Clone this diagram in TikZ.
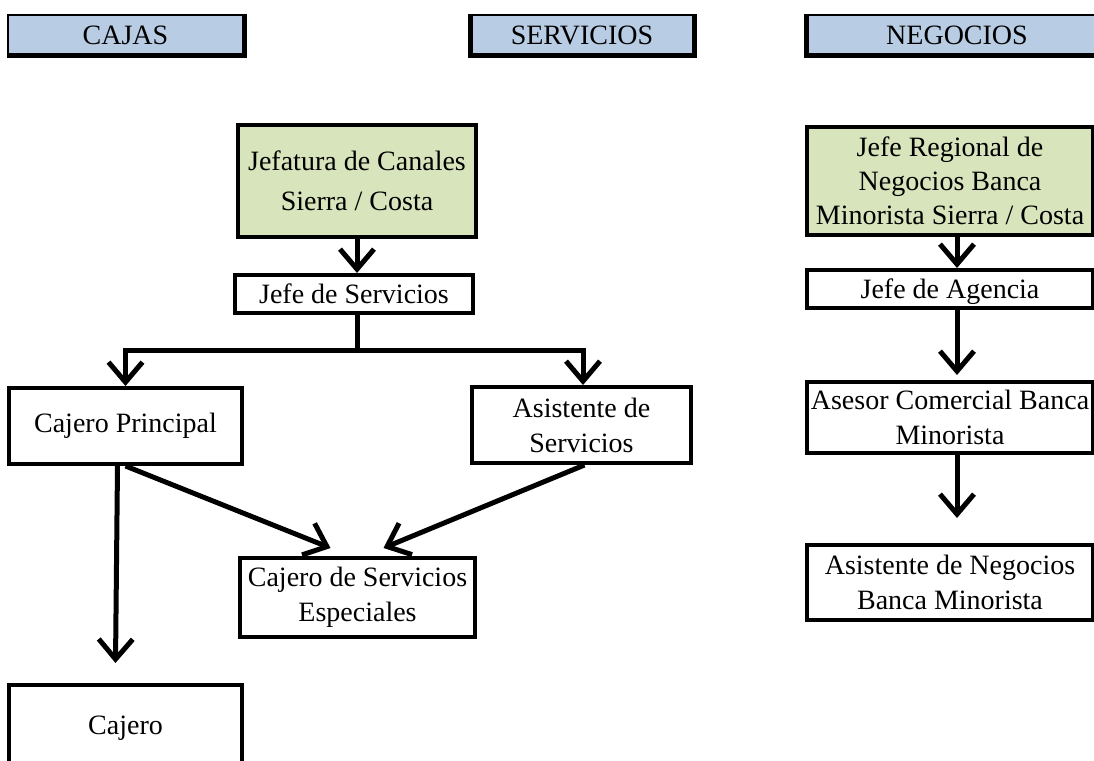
\documentclass[tikz,border=0pt]{standalone}
\usepackage{fontspec}
\setmainfont{Liberation Serif}
\usepackage[usenames,dvipsnames]{xcolor}
\definecolor{hdrblue}{HTML}{B8CCE4}
\definecolor{jefegreen}{HTML}{D8E4BC}
\usetikzlibrary{arrows.meta, positioning}

\begin{document}
\begin{tikzpicture}[
    x=1pt, y=-1pt,
    caja/.style={rectangle, draw=black, line width=4pt, fill=white, align=center, inner sep=0pt, font=\fontsize{28}{35}\selectfont},
    jefe/.style={caja, fill=jefegreen},
    linea1/.style={text height=22pt, text depth=3pt},
    header/.style={rectangle, draw=black, line width=2pt, fill=hdrblue, minimum height=40pt, inner sep=0pt, font=\fontsize{28}{30}\selectfont},
    borde/.style={line width=5pt},
    arrow/.style={line width=5pt, -{Straight Barb[length=20pt, width=34pt]}}
]
\useasboundingbox (0,0) rectangle (1094,760);

% cabeceras
\node[header, minimum width=235pt] (cajas) at (125.5,35) {CAJAS};
\node[header, minimum width=222pt] (servicios) at (582,35) {SERVICIOS};
\node[header, minimum width=300pt] (negocios) at (957,35) {NEGOCIOS};
\draw[borde] (cajas.north east) -- (cajas.south east) -- (cajas.south west);
\draw[borde] (servicios.north west) -- (servicios.south west) -- (servicios.south east) -- (servicios.north east);
\draw[borde] (negocios.north west) -- (negocios.south west) -- (negocios.south east);

% cajas y servicios
\node[jefe, minimum width=238pt, minimum height=112pt, font=\fontsize{28}{40}\selectfont] (jefatura) at (357,181) {Jefatura de Canales\\Sierra / Costa};
\node[caja, linea1, minimum width=238pt, minimum height=38pt] (jefeserv) at (354,294) {Jefe de Servicios};
\node[caja, minimum width=233pt, minimum height=76pt] (cajprin) at (125.5,426) {Cajero Principal};
\node[caja, minimum width=219pt, minimum height=76pt] (asist) at (581.5,425) {Asistente de\\Servicios};
\node[caja, minimum width=235pt, minimum height=79pt] (cse) at (357.5,597.5) {Cajero de Servicios\\Especiales};
\node[caja, minimum width=233pt, minimum height=86pt] (cajero) at (125.5,728) {Cajero};
\coordinate (ramal) at (357,350);

% negocios
\node[jefe, minimum width=286pt, minimum height=108pt, font=\fontsize{28}{34}\selectfont] (jefereg) at (950,181) {Jefe Regional de\\Negocios Banca\\Minorista Sierra / Costa};
\node[caja, linea1, minimum width=286pt, minimum height=38pt] (jefeag) at (950,289) {Jefe de Agencia};
\node[caja, minimum width=286pt, minimum height=71pt] (asesor) at (950,417.5) {Asesor Comercial Banca\\Minorista};
\node[caja, minimum width=286pt, minimum height=75pt] (asisneg) at (950,582.5) {Asistente de Negocios\\Banca Minorista};

\draw[arrow] (jefatura.south) -- (jefeserv.north -| jefatura.south);
\draw[borde] (jefeserv.south -| ramal) -- (ramal);
\draw[arrow] (ramal) -| (cajprin.north);
\draw[arrow] (ramal) -| ([xshift=1.5pt]asist.north);
\draw[arrow] ([xshift=-8pt]cajprin.south) -- ([xshift=-10pt, yshift=20pt]cajero.north);
\draw[arrow] (cajprin.south) -- ([xshift=-27pt, yshift=8pt]cse.north);
\draw[arrow] ([xshift=3pt]asist.south) -- ([xshift=26pt, yshift=8pt]cse.north);

\draw[arrow] (jefereg.south -| negocios) -- (jefeag.north -| negocios);
\draw[arrow] (jefeag.south -| negocios) -- ([yshift=5pt]asesor.north -| negocios);
\draw[arrow] (asesor.south -| negocios) -- ([yshift=25pt]asisneg.north -| negocios);
\end{tikzpicture}
\end{document}
